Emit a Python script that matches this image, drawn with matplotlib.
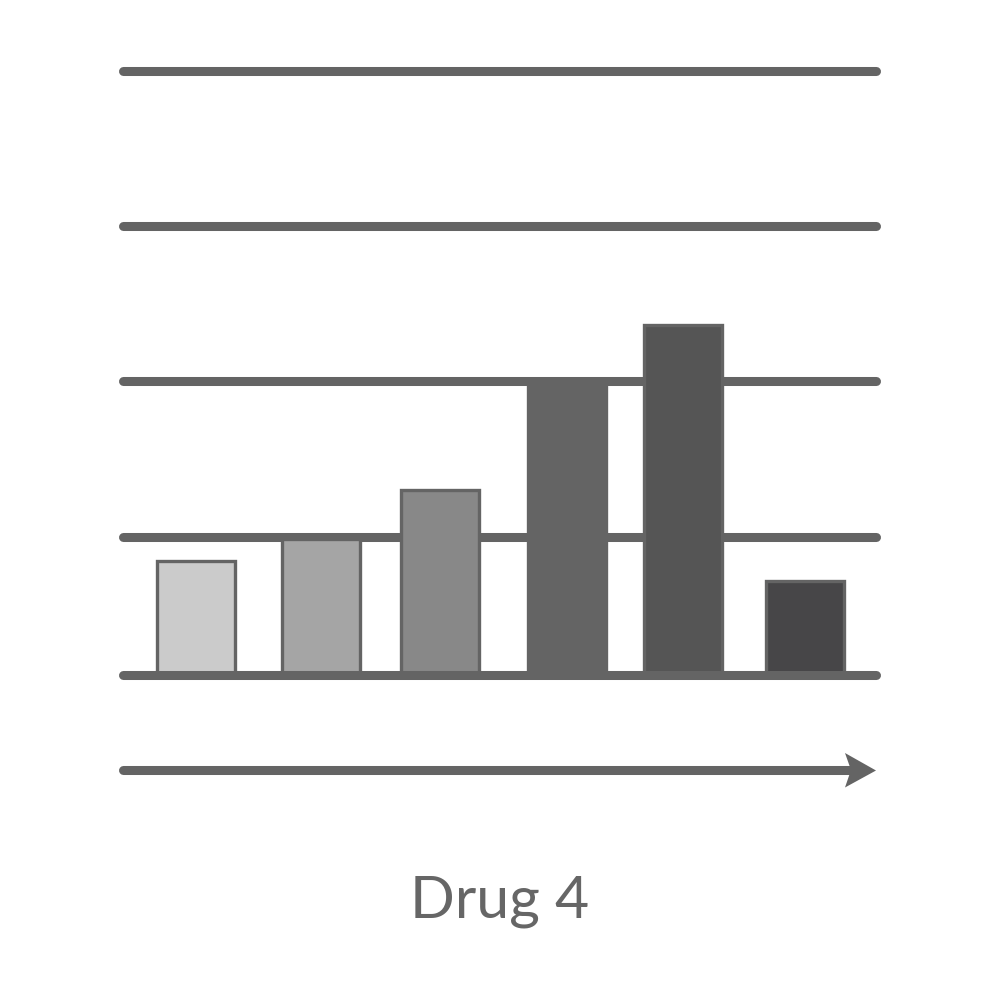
import matplotlib
matplotlib.use("Agg")
import matplotlib.pyplot as plt
from matplotlib.patches import Polygon

# ---- data ----
categories = ["A", "B", "C", "D", "E", "F"]
positions = [195.5, 321.0, 439.8, 567.0, 682.8, 804.7]
values = [114.4, 136.0, 184.7, 294.0, 350.4, 94.4]
bar_colors = ["#cbcbcb", "#a5a5a5", "#888888", "#646464", "#555555", "#474648"]
grid_levels = [138, 294, 449, 604]
label = "Drug 4"

line_color = "#646464"

fig = plt.figure(figsize=(10, 10), dpi=100)
ax = fig.add_axes([0, 0, 1, 1])
ax.set_xlim(0, 1000)
ax.set_ylim(-325, 675)
ax.axis("off")

x0, x1 = 122.8, 875.5
lw = 6.5

for g in grid_levels:
    ax.plot([x0, x1], [g, g], color=line_color, lw=lw,
            solid_capstyle="round", zorder=1)

ax.bar(positions, values, width=78, color=bar_colors,
       edgecolor=line_color, linewidth=2.4, zorder=2)

# baseline
ax.plot([x0, x1], [0, 0], color=line_color, lw=lw,
        solid_capstyle="round", zorder=3)

# arrow
ay = -95
ax.plot([x0, 851], [ay, ay], color=line_color, lw=lw,
        solid_capstyle="round", zorder=3)
ax.add_patch(Polygon([[845, ay + 17], [876, ay - 0.5], [845, ay - 17.5], [851, ay]],
                     closed=True, facecolor=line_color, edgecolor="none", zorder=4))

ax.text(500, -243, label, ha="center", va="baseline", fontsize=42.5,
        color="#666666", family=["Lato", "DejaVu Sans"])

fig.savefig("out.png", dpi=100, facecolor="white")
